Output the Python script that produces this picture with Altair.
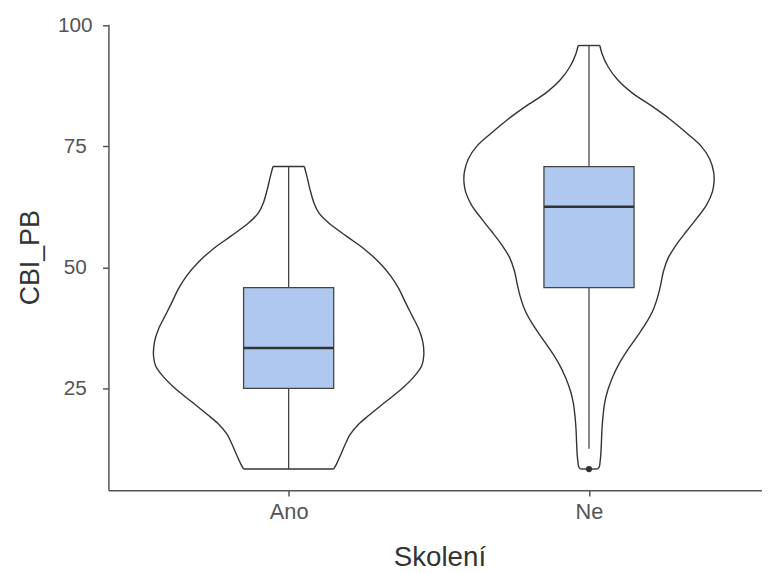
import altair as alt
import pandas as pd

# ---- data ----
categories = ["Ano", "Ne"]
q1 = [25.0, 45.83]
median = [33.33, 62.5]
q3 = [45.83, 70.83]
whisker_low = [8.33, 12.5]
whisker_high = [70.83, 95.83]
outlier_cat = ["Ne"]
outlier_val = [8.33]

# violin outline: value (y) and relative density width (1 = widest)
ano_y = [70.83, 68.7, 66.0, 63.25, 61.2, 59.15, 56.4, 53.7, 50.96, 48.2, 45.5, 42.76,
         40.03, 37.3, 34.56, 31.83, 29.78, 27.73, 25.0, 22.27, 19.54, 17.49, 15.44,
         13.39, 11.34, 9.29, 8.33]
ano_w = [0.116, 0.136, 0.159, 0.188, 0.225, 0.297, 0.430, 0.563, 0.672, 0.756, 0.817,
         0.864, 0.913, 0.962, 0.993, 1.0, 0.986, 0.937, 0.841, 0.720, 0.599, 0.514,
         0.454, 0.418, 0.386, 0.353, 0.333]
ne_y = [95.83, 94.2, 91.5, 88.75, 86.0, 83.3, 80.6, 77.8, 75.1, 72.4, 69.7, 67.6, 65.6,
        62.9, 60.1, 57.4, 54.7, 52.0, 49.2, 46.5, 43.8, 41.1, 38.3, 35.6, 32.9, 30.2,
        27.4, 24.7, 22.0, 19.3, 16.6, 13.9, 11.2, 9.8, 8.8, 8.33]
ne_w = [0.080, 0.096, 0.140, 0.212, 0.321, 0.466, 0.599, 0.720, 0.828, 0.893, 0.922,
        0.925, 0.913, 0.870, 0.797, 0.720, 0.647, 0.587, 0.551, 0.531, 0.507, 0.473,
        0.418, 0.353, 0.285, 0.225, 0.176, 0.140, 0.116, 0.104, 0.096, 0.092, 0.087,
        0.082, 0.076, 0.062]

# ---- build tables ----
pos = {c: i + 1 for i, c in enumerate(categories)}
VHALF = 0.45
BHALF = 0.15

side_rows = []
end_rows = []
for cat, ys, ws in [("Ano", ano_y, ano_w), ("Ne", ne_y, ne_w)]:
    for y, w in zip(ys, ws):
        side_rows.append({"grp": cat + "-L", "y": y, "x": pos[cat] - VHALF * w})
        side_rows.append({"grp": cat + "-R", "y": y, "x": pos[cat] + VHALF * w})
    for i in (0, -1):
        end_rows.append({"y": ys[i], "xl": pos[cat] - VHALF * ws[i], "xr": pos[cat] + VHALF * ws[i]})
side_df = pd.DataFrame(side_rows)
end_df = pd.DataFrame(end_rows)

box_df = pd.DataFrame({
    "cat": categories,
    "pos": [pos[c] for c in categories],
    "bl": [pos[c] - BHALF for c in categories],
    "br": [pos[c] + BHALF for c in categories],
    "q1": q1, "median": median, "q3": q3,
    "lo": whisker_low, "hi": whisker_high,
})
out_df = pd.DataFrame({"pos": [pos[c] for c in outlier_cat], "val": outlier_val})

FONT = "Liberation Sans"
label_expr = "".join(f"datum.value == {pos[c]} ? '{c}' : " for c in categories) + "''"

xscale = alt.Scale(domain=[0.4, 2.576], nice=False, zero=False)
yscale = alt.Scale(domain=[3.96, 100.21], nice=False, zero=False)

x_axis = alt.Axis(values=[1, 2], labelExpr=label_expr, title="Skolení", grid=False,
                  domainColor="#555555", domainWidth=1.5, tickColor="#555555", tickWidth=1.5,
                  tickSize=6, labelFont=FONT, labelFontSize=22, labelColor="#555555",
                  labelPadding=6, labelFlush=False, titleFont=FONT, titleFontSize=28,
                  titleFontWeight="normal", titleColor="#333333", titleX=334.5, titleY=76,
                  titleBaseline="alphabetic", titleAlign="center")
y_axis = alt.Axis(values=[25, 50, 75, 100], title="CBI_PB", grid=False,
                  domainColor="#555555", domainWidth=1.5, tickColor="#555555", tickWidth=1.5,
                  tickSize=6, labelFont=FONT, labelFontSize=21, labelColor="#555555",
                  labelAlign="center", labelBaseline="middle", labelPadding=28, labelFlush=False,
                  titleFont=FONT, titleFontSize=27, titleFontWeight="normal", titleColor="#333333",
                  titleAngle=270, titleX=-71, titleY=235.4, titleBaseline="alphabetic",
                  titleAlign="center")

sides = alt.Chart(side_df).mark_line(
    interpolate="catmull-rom", color="#333333", strokeWidth=1.4
).encode(
    y=alt.Y("y:Q", scale=yscale, axis=y_axis),
    x=alt.X("x:Q", scale=xscale, axis=x_axis),
    detail="grp:N",
    order=alt.Order("y:Q"),
)

ends = alt.Chart(end_df).mark_rule(color="#333333", strokeWidth=1.4).encode(
    x=alt.X("xl:Q", scale=xscale, axis=x_axis),
    x2="xr:Q",
    y=alt.Y("y:Q", scale=yscale, axis=y_axis),
)

whisk = alt.Chart(box_df).mark_rule(color="#444444", strokeWidth=1.3).encode(
    x=alt.X("pos:Q", scale=xscale, axis=x_axis),
    y=alt.Y("lo:Q", scale=yscale, axis=y_axis),
    y2="hi:Q",
)

box = alt.Chart(box_df).mark_rect(fill="#aec8ef", stroke="#444444", strokeWidth=1.3).encode(
    x=alt.X("bl:Q", scale=xscale, axis=x_axis),
    x2="br:Q",
    y=alt.Y("q1:Q", scale=yscale, axis=y_axis),
    y2="q3:Q",
)

med = alt.Chart(box_df).mark_rule(color="#333333", strokeWidth=2.6).encode(
    x=alt.X("bl:Q", scale=xscale, axis=x_axis),
    x2="br:Q",
    y=alt.Y("median:Q", scale=yscale, axis=y_axis),
)

outl = alt.Chart(out_df).mark_circle(color="#333333", opacity=1, size=40).encode(
    x=alt.X("pos:Q", scale=xscale, axis=x_axis),
    y=alt.Y("val:Q", scale=yscale, axis=y_axis),
)

chart = alt.layer(sides, ends, whisk, box, med, outl).properties(
    width=660.5, height=470.8,
    autosize=alt.AutoSizeParams(type="none"),
    padding={"left": 101.5, "top": 13.5, "right": 0, "bottom": 80},
    background="white",
).configure_view(stroke=None)

chart.save("out.html", embed_options={"renderer": "svg", "actions": False})
